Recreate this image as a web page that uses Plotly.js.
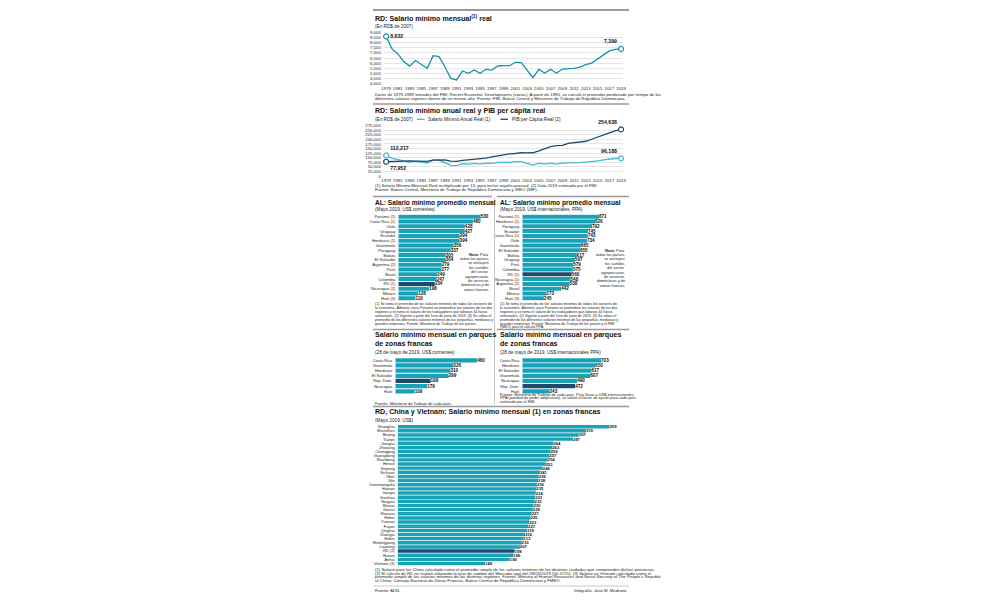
<!DOCTYPE html>
<html><head><meta charset="utf-8">
<script src="https://cdn.plot.ly/plotly-3.0.1.min.js"></script>
<style>html,body{margin:0;padding:0;background:#fff}#chart{width:1000px;height:600px}</style>
</head><body><div id="chart"></div>
<script>
// ---------------- DATA ----------------
const years = [1979,1980,1981,1982,1983,1984,1985,1986,1987,1988,1989,1990,1991,1992,1993,1994,1995,1996,1997,1998,1999,2000,2001,2002,2003,2004,2005,2006,2007,2008,2009,2010,2011,2012,2013,2014,2015,2016,2017,2018,2019];
const salarioMensualReal = [8632,7400,6900,6150,5700,6250,5850,5480,6730,6640,5640,4490,4330,5220,4990,5310,4990,5380,5310,5710,5740,5740,6075,6040,5310,4550,5380,5010,5380,4990,5410,5410,5480,5600,5850,6000,6400,6750,7200,7350,7399];
const salarioAnualReal = [112217,96200,89700,80000,74100,81300,76100,71200,87500,86300,73300,58400,56300,67900,64900,69000,64900,69900,69000,74200,74600,74600,79000,78500,69000,59200,69900,65100,69900,64900,70300,70300,71200,72800,76100,78000,83200,87800,93600,95600,96188];
const pibPerCapitaReal = [77952,80000,81000,81500,82500,81800,79500,80500,86500,86000,88000,81000,80500,86000,88500,91000,94000,98000,104000,110000,116000,121000,123000,128000,126000,127000,137000,150000,160000,166000,167000,178000,181000,184000,190000,201000,214000,226000,236000,247000,254638];

const alPaises = ['Panamá (1)','Costa Rica (1)','Chile','Uruguay','Ecuador','Honduras (1)','Guatemala','Paraguay','Bolivia','El Salvador','Argentina (2)','Perú','Brasil','Colombia','RD (1)','Nicaragua (1)','México','Haití (3)'];
const alCorrientes = [530,480,428,427,394,394,356,337,305,304,279,277,249,247,234,198,128,110];

const alPaisesPPA = ['Panamá (1)','Honduras (1)','Paraguay','Ecuador','Costa Rica (1)','Chile','Guatemala','El Salvador','Bolivia','Uruguay','Perú','Colombia','RD (1)','Nicaragua (1)','Argentina (2)','Brasil','México','Haití (3)'];
const alPPA = [871,826,792,745,743,734,665,655,617,597,579,575,560,548,538,442,273,245];

const zfPaises = ['Costa Rica','Guatemala','Honduras','El Salvador','Rep. Dom.','Nicaragua','Haití'];
const zfCorrientes = [460,326,310,299,198,179,109];

const zfPaisesPPA = ['Costa Rica','Honduras','El Salvador','Guatemala','Nicaragua','Rep. Dom.','Haití'];
const zfPPA = [703,650,617,607,490,472,243];

const chinaRegiones = ['Shanghai','Shenzhen','Beijing','Tianjin','Jiangsu','Zhejiang','Chongqing','Guangdong','Shandong','Henan','Xinjiang','Sichuan','Tibet','Jilin','Innermongolia','Hainan','Jiangxi','Guizhou','Ningxia','Shanxi','Gansu','Shaanxi','Hebei','Yunnan','Fujian','Qinghai','Guangxi','Hubei','Heilongjiang','Liaoning','RD (2)','Hunan','Anhui','Vietnam (3)'];
const chinaValores = [359,319,307,297,264,262,259,257,254,251,246,241,239,238,236,235,234,233,232,230,229,227,225,223,221,219,216,213,210,207,198,196,190,148];

// ---------------- STYLE / LAYOUT HELPERS ----------------
const FN = '"Liberation Sans","Arial",sans-serif';
const TEAL = '#17a2b8', NAVY = '#1d4a6d', LIGHT = '#3bbdd4', LINE1 = '#1592ab', GRID = '#d6d6d6', TXT = '#222', RULE = '#9a9a9a';
const W = 1000, H = 600, DX = 29;
const px = v => (v - DX) / W, py = v => 1 - v / H;

const annotations = [], shapes = [];
function ann(x, y, text, size, o) {
  o = o || {};
  annotations.push({xref:'paper', yref:'paper', x:px(x), y:py(y), text:text, showarrow:false,
    xanchor:o.anchor||'left', yanchor:'middle', align:o.align||o.anchor||'left',
    font:{family:FN, size:size, color:o.color||TXT, weight:o.bold?700:400}});
}
function lines(x, y0, gap, arr, size, o) { arr.forEach((t,i)=>ann(x, y0+i*gap, t, size, o)); }
function hline(x0,x1,y,w,c){ shapes.push({type:'line',xref:'paper',yref:'paper',x0:px(x0),x1:px(x1),y0:py(y),y1:py(y),line:{color:c||RULE,width:w}}); }
function vline(x,y0,y1,w,c){ shapes.push({type:'line',xref:'paper',yref:'paper',x0:px(x),x1:px(x),y0:py(y0),y1:py(y1),line:{color:c||RULE,width:w}}); }

const tickF = {family:FN, size:4.3, color:TXT};
const fmt = v => v.toLocaleString('en-US');

function yearAxis(anchor){ return {domain:[px(412.8),px(652.4)], range:[1978.6,2019.4], anchor:anchor, tickmode:'linear', tick0:1979, dtick:2,
  tickangle:0, tickfont:tickF, ticks:'', showgrid:false, zeroline:false, showline:false, ticklabelstandoff:1, fixedrange:true}; }
function valAxis(anchor, top, bottom, range, dtick){ return {domain:[py(bottom),py(top)], range:range, anchor:anchor, tickmode:'linear', tick0:0, dtick:dtick,
  tickformat:',d', tickfont:tickF, ticks:'', gridcolor:GRID, gridwidth:0.6, zeroline:false, showline:false, ticklabelstandoff:2, fixedrange:true}; }
function barXAxis(anchor, x0, x1, range){ return {domain:[px(x0),px(x1)], range:range, anchor:anchor, visible:false, fixedrange:true}; }
function catAxis(anchor, top, bottom, cats){ return {domain:[py(bottom),py(top)], type:'category', range:[cats.length-0.5,-0.5], anchor:anchor,
  tickmode:'array', tickvals:cats, ticktext:cats, tickangle:0,
  tickfont:{family:FN,size:4,color:TXT}, ticks:'', showgrid:false, zeroline:false, showline:false, ticklabelstandoff:2, fixedrange:true}; }

const barColors = cats => cats.map(c => /^(RD|Rep\. Dom)/.test(c) ? NAVY : TEAL);
function barTrace(cats, vals, xa, ya, fsize){
  return {type:'bar', orientation:'h', y:cats, x:vals, xaxis:xa, yaxis:ya, marker:{color:barColors(cats)},
    texttemplate:'%{x}', textposition:'outside', constraintext:'none', cliponaxis:false,
    textfont:{family:FN, size:fsize||4.6, color:'#111', weight:700}, hoverinfo:'skip'};
}
function endPoints(xs, ys, xa, ya, color, positions){
  const n = xs.length - 1;
  return {type:'scatter', mode:'markers+text', x:[xs[0], xs[n]], y:[ys[0], ys[n]], xaxis:xa, yaxis:ya,
    text:[fmt(ys[0]), fmt(ys[n])], textposition:positions, cliponaxis:false,
    textfont:{family:FN, size:5.2, color:'#111', weight:700},
    marker:{size:5, color:'#fff', line:{color:color, width:1.2}}, hoverinfo:'skip'};
}

// ---------------- TRACES ----------------
const data = [
  {type:'scatter', mode:'lines', x:years, y:salarioMensualReal, xaxis:'x', yaxis:'y', line:{color:LINE1, width:1.3}, hoverinfo:'skip'},
  endPoints(years, salarioMensualReal, 'x', 'y', LINE1, ['middle right','top left']),
  {type:'scatter', mode:'lines', x:years, y:salarioAnualReal, xaxis:'x2', yaxis:'y2', line:{color:LIGHT, width:1.3}, hoverinfo:'skip'},
  {type:'scatter', mode:'lines', x:years, y:pibPerCapitaReal, xaxis:'x2', yaxis:'y2', line:{color:NAVY, width:1.3}, hoverinfo:'skip'},
  endPoints(years, salarioAnualReal, 'x2', 'y2', LIGHT, ['top right','top left']),
  endPoints(years, pibPerCapitaReal, 'x2', 'y2', NAVY, ['bottom right','top left']),
  barTrace(alPaises, alCorrientes, 'x3', 'y3'),
  barTrace(alPaisesPPA, alPPA, 'x4', 'y4'),
  barTrace(zfPaises, zfCorrientes, 'x5', 'y5'),
  barTrace(zfPaisesPPA, zfPPA, 'x6', 'y6'),
  barTrace(chinaRegiones, chinaValores, 'x7', 'y7', 4.2)
];

// ---------------- TEXT & RULES ----------------
const TS = 7.1, TA = 6.6, SS = 4.7, NS = 4.3;
// Panel 1
hline(402, 658, 10, 2);
ann(402, 18.5, 'RD: Salario mínimo mensual<sup>(1)</sup> real', TS, {bold:true, color:'#111'});
ann(402, 26, '(En RD$ de 2007)', SS);
lines(402, 94.3, 4.5, [
 'Datos de 1979-1989 tomados del FMI, Recent Economic Developments (varios). A partir de 1990, se calculó el promedio ponderado por tiempo de los',
 'diferentes salarios vigentes dentro de un mismo año. Fuente: FMI, Banco Central y Ministerio de Trabajo de República Dominicana.'], NS);
// Panel 2
hline(402, 658, 104, 1.5);
ann(402, 111, 'RD: Salario mínimo anual real y PIB per cápita real', TS, {bold:true, color:'#111'});
ann(402, 119.3, '(En RD$ de 2007)', SS);
hline(446, 453.5, 119.3, 1.3, LIGHT);
ann(455, 119.3, 'Salario Mínimo Anual Real (1)', SS);
hline(529.5, 537, 119.3, 1.3, NAVY);
ann(538.5, 119.3, 'PIB per Cápita Real (2)', SS);
lines(402, 185.5, 4.3, [
 '(1) Salario Mínimo Mensual Real multiplicado por 13, para incluir regalía pascual. (2) Dato 2019 estimado por el FMI.',
 'Fuente: Banco Central, Ministerio de Trabajo de República Dominicana y WEO (IMF).'], NS);
// Panel 3
hline(402, 521, 196.5, 1.5);
hline(526, 658, 196.5, 1.5);
vline(523.5, 198, 404, 0.8, '#bbb');
ann(402, 202.5, 'AL: Salario mínimo promedio mensual', TA, {bold:true, color:'#111'});
ann(402, 209.5, '(Mayo 2019, US$ corrientes)', SS);
ann(527, 202.5, 'AL: Salario mínimo promedio mensual', TA, {bold:true, color:'#111'});
ann(527, 209.5, '(Mayo 2019, US$ internacionales, PPA)', SS);
const notaL = ['<b>Nota:</b> Para','todos los países,','se excluyen','los sueldos','del sector','agropecuario,','de servicios','domésticos y de','zonas francas.'];
lines(520, 254, 4.4, notaL, 3.9, {anchor:'right'});
lines(656, 250, 4.4, notaL, 3.9, {anchor:'right'});
const fnAL = [
 '(1) Se toma el promedio de los salarios mínimos de todos los sectores de',
 'la economía. Además, para Panamá se promedian los salarios de las dos',
 'regiones y se toma el salario de los trabajadores que laboran 44 horas',
 'semanales. (2) Vigente a partir del 1ero de junio de 2019. (3) Se utiliza el',
 'promedio de los diferentes salarios mínimos de las pequeñas, medianas y'];
lines(402, 303.5, 4, fnAL.concat(['grandes empresas. Fuente: Ministerio de Trabajo de los países.']), 3.6);
lines(527, 303.5, 4, fnAL.concat(['grandes empresas. Fuente: Ministerio de Trabajo de los países y el FMI','(WEO) para el cálculo PPA.']), 3.6);
// Panel 4
hline(402, 521, 329.5, 1.5);
hline(526, 658, 329.5, 1.5);
ann(402, 335, 'Salario mínimo mensual en parques', TS, {bold:true, color:'#111'});
ann(402, 343.5, 'de zonas francas', TS, {bold:true, color:'#111'});
ann(402, 352.5, '(28 de mayo de 2019, US$ corrientes)', SS);
ann(527, 335, 'Salario mínimo mensual en parques', TS, {bold:true, color:'#111'});
ann(527, 343.5, 'de zonas francas', TS, {bold:true, color:'#111'});
ann(527, 352.5, '(28 de mayo de 2019, US$ internacionales PPA)', SS);
ann(402, 403, 'Fuente: Ministerio de Trabajo de cada país.', 4.0);
lines(527, 394, 3.9, [
 'Fuente: Ministerio de Trabajo de cada país. Para llevar a US$ internacionales',
 'PPA (paridad de poder adquisitivo), se utilizó el factor de ajuste para cada país',
 'estimado por el FMI.'], 3.9);
// Panel 5
hline(402, 658, 406.5, 1.5);
ann(402, 412, 'RD, China y Vietnam: Salario mínimo mensual (1) en zonas francas', TS, {bold:true, color:'#111'});
ann(402, 420, '(Mayo 2019, US$)', SS);
lines(402, 569.2, 3.8, [
 '(1) Salario para las China calculado como el promedio simple de los salarios mínimos de los distintos ciudades que comprenden dichas provincias.',
 '(2) El cálculo de RD se realizó utilizando la tasa de cambio del Mercado spot del 28/05/2019 (50.5725). (3) Salario en Vietnam calculado como el',
 'promedio simple de los salarios mínimos de las distintas regiones. Fuente: Ministry of Human Resources and Social Security of The People\'s Republic',
 'of China, Consejo Nacional de Zonas Francas, Banco Central de República Dominicana y FMEO.'], 4.3);
hline(402, 658, 586, 0.8, '#bbb');
ann(402, 590.5, 'Fuente: ADN.', 4.2);
ann(658, 590.5, 'Infografía: José M. Medrano', 4.2, {anchor:'right'});

// ---------------- LAYOUT ----------------
const layout = {
  width: W, height: H, margin:{l:0,r:0,t:0,b:0}, paper_bgcolor:'#fff', plot_bgcolor:'rgba(0,0,0,0)',
  showlegend:false, bargap:0.17, font:{family:FN, color:TXT},
  xaxis: yearAxis('y'),
  yaxis: valAxis('x', 32.7, 83.3, [4000, 9000], 500),
  xaxis2: yearAxis('y2'),
  yaxis2: valAxis('x2', 125.7, 176, [0, 275000], 25000),
  xaxis3: barXAxis('y3', 427.3, 520.6, [0, 600]),
  yaxis3: catAxis('x3', 214.3, 300.7, alPaises),
  xaxis4: barXAxis('y4', 551.3, 639.3, [0, 1000]),
  yaxis4: catAxis('x4', 214.3, 300.7, alPaisesPPA),
  xaxis5: barXAxis('y5', 424.3, 513.3, [0, 500]),
  yaxis5: catAxis('x5', 357.7, 393.9, zfPaises),
  xaxis6: barXAxis('y6', 551.3, 640.9, [0, 800]),
  yaxis6: catAxis('x6', 357.7, 393.9, zfPaisesPPA),
  xaxis7: barXAxis('y7', 426.7, 662.7, [0, 400]),
  yaxis7: catAxis('x7', 424.6, 565.6, chinaRegiones),
  annotations: annotations, shapes: shapes
};
Plotly.newPlot('chart', data, layout, {displayModeBar:false, staticPlot:true});
</script></body></html>
